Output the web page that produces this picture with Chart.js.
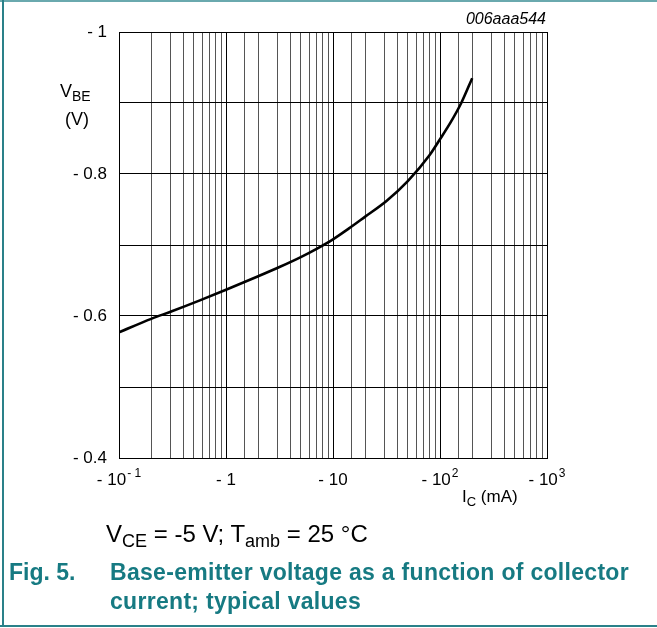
<!DOCTYPE html>
<html>
<head>
<meta charset="utf-8">
<script src="https://cdn.jsdelivr.net/npm/chart.js@4"></script>
<style>
  body { margin: 0; background: #fff; }
  #wrap { position: relative; width: 657px; height: 628px; font-family: "Liberation Sans", Arial, sans-serif; color: #000; overflow: hidden; }
  #box { position: absolute; left: 0; top: 0; width: 657px; height: 628px; }
  .lbl { position: absolute; white-space: nowrap; }
  .teal { color: #167a82; font-weight: bold; font-size: 23px; line-height: 29px; }
  .line { position: absolute; background: #2a8189; }
</style>
</head>
<body>
<div id="wrap">
  <div id="box"><canvas id="miGrafico"></canvas></div>

  <div class="line" style="left:0;top:0;width:657px;height:2px;background:#6aa9ae"></div>
  <div class="line" style="left:2px;top:0;width:2px;height:627px"></div>
  <div class="line" style="left:0;top:625px;width:657px;height:2px"></div>

  <div class="lbl" style="right:111px;top:11px;font-size:16px;font-style:italic;line-height:16px">006aaa544</div>
  <div class="lbl" style="left:60px;top:82px;font-size:18px;line-height:18px">V<span style="font-size:14px;position:relative;top:4px">BE</span></div>
  <div class="lbl" style="left:65px;top:110px;font-size:18px;line-height:18px">(V)</div>
  <div class="lbl" style="left:462px;top:488px;font-size:17px;line-height:17px">I<span style="font-size:13px;position:relative;top:4px">C</span> (mA)</div>

  <div class="lbl" style="left:106px;top:522px;font-size:24px;line-height:24px">V<span style="font-size:18px;position:relative;top:5px">CE</span> = -5 V; T<span style="font-size:18px;position:relative;top:5px">amb</span> = 25 °C</div>

  <div class="lbl teal" style="left:9px;top:558px">Fig. 5.</div>
  <div class="lbl teal" style="left:110px;top:558px;letter-spacing:0.3px">Base-emitter voltage as a function of collector<br>current; typical values</div>
</div>

<script>
// I_C (mA, magnitude) and V_BE (V)
const corriente = [0.1, 0.2, 0.316, 0.57, 1, 2, 3.16, 5, 7.1, 10, 14, 20, 31.6, 50, 79.4, 100, 126, 158, 200];
const tension = [-0.577, -0.596, -0.607, -0.622, -0.637, -0.656, -0.669, -0.683, -0.695, -0.708, -0.723, -0.740, -0.762, -0.790, -0.826, -0.849, -0.873, -0.900, -0.935];

// x tick labels: value, base text, superscript
const valoresX = [0.1, 1, 10, 100, 1000];
const textosX = ['- 10', '- 1', '- 10', '- 10', '- 10'];
const exponentesX = ['- 1', '', '', '2', '3'];

// y tick labels
const etiquetasY = { '-1': '- 1', '-0.8': '- 0.8', '-0.6': '- 0.6', '-0.4': '- 0.4' };

const puntos = corriente.map((c, i) => ({ x: c, y: tension[i] }));

const esDecada = v => Math.abs(Math.log10(v) - Math.round(Math.log10(v))) < 1e-6;

// draws the x tick labels with real superscripts at the scale's positions
const etiquetasPotencia = {
    id: 'etiquetasPotencia',
    afterDraw(chart) {
        const ctx = chart.ctx;
        const s = chart.scales.x;
        const base = s.top + 27;
        ctx.save();
        ctx.fillStyle = '#000';
        ctx.textBaseline = 'alphabetic';
        ctx.textAlign = 'left';
        valoresX.forEach((v, i) => {
            const px = s.getPixelForValue(v);
            ctx.font = '17px "Liberation Sans"';
            const w1 = ctx.measureText(textosX[i]).width;
            ctx.font = '12px "Liberation Sans"';
            const w2 = exponentesX[i] ? ctx.measureText(exponentesX[i]).width + 1 : 0;
            const x0 = px - (w1 + w2) / 2;
            ctx.font = '17px "Liberation Sans"';
            ctx.fillText(textosX[i], x0, base);
            if (exponentesX[i]) {
                ctx.font = '12px "Liberation Sans"';
                ctx.fillText(exponentesX[i], x0 + w1 + 1, base - 8);
            }
        });
        ctx.restore();
    }
};

const contenedor = document.getElementById('miGrafico');

const miGrafico = new Chart(contenedor, {
    type: 'line',
    data: {
        datasets: [{
            data: puntos,
            borderColor: '#000',
            borderWidth: 2.6,
            pointRadius: 0,
            fill: false,
            cubicInterpolationMode: 'monotone'
        }]
    },
    options: {
        responsive: true,
        maintainAspectRatio: false,
        animation: false,
        layout: { padding: { left: 0, right: 110, top: 32, bottom: 130 } },
        plugins: { legend: { display: false }, tooltip: { enabled: false } },
        scales: {
            x: {
                type: 'logarithmic',
                min: 0.1,
                max: 1000,
                afterFit: s => { s.height = 40; },
                border: { color: '#000', width: 1 },
                grid: {
                    drawTicks: false,
                    lineWidth: 1,
                    color: ctx => (ctx.tick && esDecada(ctx.tick.value)) ? '#000' : '#555'
                },
                ticks: { display: false, autoSkip: false, maxRotation: 0 }
            },
            y: {
                type: 'linear',
                min: -1,
                max: -0.4,
                reverse: true,
                afterFit: s => { s.width = 119; },
                border: { color: '#000', width: 1 },
                grid: { drawTicks: false, color: '#000', lineWidth: 1 },
                ticks: {
                    stepSize: 0.1,
                    padding: 12,
                    color: '#000',
                    font: { family: 'Liberation Sans', size: 17 },
                    callback: v => {
                        const r = String(Math.round(v * 10) / 10);
                        return etiquetasY[r] || '';
                    }
                }
            }
        }
    },
    plugins: [etiquetasPotencia]
});
</script>
</body>
</html>
